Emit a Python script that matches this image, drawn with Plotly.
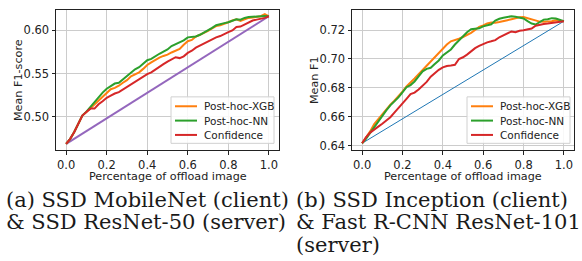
import plotly.graph_objects as go

# ---------------- data ----------------
offload = [round(i * 0.02, 2) for i in range(51)]

a_xgb = [0.4687, 0.4745, 0.4825, 0.4925, 0.5015, 0.5055, 0.5100, 0.5150, 0.5195, 0.5240,
         0.5280, 0.5320, 0.5335, 0.5360, 0.5395, 0.5425, 0.5470, 0.5490, 0.5515, 0.5555,
         0.5600, 0.5630, 0.5660, 0.5685, 0.5705, 0.5720, 0.5745, 0.5765, 0.5785, 0.5835,
         0.5875, 0.5890, 0.5930, 0.5950, 0.5970, 0.5995, 0.6025, 0.6050, 0.6060, 0.6075,
         0.6095, 0.6115, 0.6130, 0.6110, 0.6130, 0.6145, 0.6150, 0.6160, 0.6165, 0.6188,
         0.6164]
a_nn = [0.4687, 0.4745, 0.4825, 0.4925, 0.5015, 0.5060, 0.5115, 0.5180, 0.5235, 0.5280,
        0.5325, 0.5355, 0.5385, 0.5395, 0.5435, 0.5475, 0.5520, 0.5550, 0.5575, 0.5610,
        0.5655, 0.5670, 0.5705, 0.5730, 0.5755, 0.5780, 0.5820, 0.5840, 0.5865, 0.5885,
        0.5920, 0.5925, 0.5930, 0.5950, 0.5975, 0.6000, 0.6030, 0.6060, 0.6075, 0.6085,
        0.6095, 0.6115, 0.6130, 0.6125, 0.6145, 0.6155, 0.6160, 0.6165, 0.6165, 0.6168,
        0.6164]
a_conf = [0.4687, 0.4745, 0.4825, 0.4925, 0.5015, 0.5055, 0.5095, 0.5095, 0.5145, 0.5180,
          0.5220, 0.5245, 0.5270, 0.5285, 0.5315, 0.5355, 0.5375, 0.5410, 0.5440, 0.5465,
          0.5495, 0.5515, 0.5550, 0.5580, 0.5610, 0.5640, 0.5665, 0.5690, 0.5680, 0.5700,
          0.5740, 0.5765, 0.5800, 0.5825, 0.5850, 0.5880, 0.5900, 0.5920, 0.5935, 0.5960,
          0.5980, 0.6000, 0.6040, 0.6045, 0.6070, 0.6090, 0.6115, 0.6125, 0.6135, 0.6145,
          0.6164]
a_diag_x = [0.0, 1.0]
a_diag_y = [0.4687, 0.6164]

b_xgb = [0.6418, 0.6455, 0.6500, 0.6550, 0.6585, 0.6620, 0.6655, 0.6685, 0.6712, 0.6740,
         0.6775, 0.6810, 0.6835, 0.6865, 0.6895, 0.6925, 0.6955, 0.6985, 0.7010, 0.7040,
         0.7075, 0.7100, 0.7122, 0.7130, 0.7140, 0.7152, 0.7165, 0.7180, 0.7200, 0.7222,
         0.7232, 0.7245, 0.7252, 0.7250, 0.7255, 0.7264, 0.7268, 0.7275, 0.7284, 0.7288,
         0.7290, 0.7282, 0.7272, 0.7265, 0.7258, 0.7257, 0.7258, 0.7260, 0.7268, 0.7264,
         0.7261]
b_nn = [0.6418, 0.6450, 0.6490, 0.6530, 0.6570, 0.6610, 0.6645, 0.6680, 0.6705, 0.6735,
        0.6770, 0.6805, 0.6820, 0.6845, 0.6880, 0.6915, 0.6932, 0.6939, 0.6965, 0.6990,
        0.7025, 0.7048, 0.7066, 0.7100, 0.7130, 0.7160, 0.7185, 0.7205, 0.7208, 0.7212,
        0.7225, 0.7230, 0.7240, 0.7265, 0.7278, 0.7285, 0.7290, 0.7295, 0.7292, 0.7288,
        0.7280, 0.7262, 0.7245, 0.7238, 0.7258, 0.7272, 0.7275, 0.7282, 0.7280, 0.7268,
        0.7261]
b_conf = [0.6418, 0.6460, 0.6492, 0.6515, 0.6533, 0.6553, 0.6575, 0.6598, 0.6630, 0.6660,
          0.6688, 0.6725, 0.6758, 0.6768, 0.6790, 0.6818, 0.6842, 0.6878, 0.6905, 0.6925,
          0.6942, 0.6952, 0.6955, 0.6960, 0.7000, 0.7012, 0.7030, 0.7052, 0.7075, 0.7090,
          0.7105, 0.7115, 0.7122, 0.7130, 0.7150, 0.7165, 0.7178, 0.7190, 0.7185, 0.7195,
          0.7198, 0.7205, 0.7210, 0.7230, 0.7238, 0.7242, 0.7245, 0.7250, 0.7255, 0.7258,
          0.7261]
b_diag_x = [0.0, 1.0]
b_diag_y = [0.6418, 0.7261]

series_names = ["Post-hoc-XGB", "Post-hoc-NN", "Confidence"]
series_colors = ["#ff7f0e", "#2ca02c", "#d62728"]

x_ticks = [0.0, 0.2, 0.4, 0.6, 0.8, 1.0]
a_y_ticks = [0.50, 0.55, 0.60]
b_y_ticks = [0.64, 0.66, 0.68, 0.70, 0.72]

x_title = "Percentage of offload image"
a_y_title = "Mean F1-score"
b_y_title = "Mean F1"
caption_a = ["(a) SSD MobileNet (client)", "& SSD ResNet-50 (server)"]
caption_b = ["(b) SSD Inception (client)", "& Fast R-CNN ResNet-101", "(server)"]

# ---------------- figure ----------------
W, H = 582, 261
def px(x):
    return x / W
def py(y):
    return 1 - y / H

fig = go.Figure()

def add_panel(xa, ya, series, diag_x, diag_y, diag_color, diag_width):
    fig.add_trace(go.Scatter(x=diag_x, y=diag_y, mode="lines", xaxis=xa, yaxis=ya,
                             line=dict(color=diag_color, width=diag_width), showlegend=False))
    for ys, name, col in zip(series, series_names, series_colors):
        fig.add_trace(go.Scatter(x=offload, y=ys, mode="lines", name=name, xaxis=xa, yaxis=ya,
                                 line=dict(color=col, width=2), showlegend=False))

add_panel("x", "y", [a_xgb, a_nn, a_conf], a_diag_x, a_diag_y, "#9467bd", 2)
add_panel("x2", "y2", [b_xgb, b_nn, b_conf], b_diag_x, b_diag_y, "#1f77b4", 1)

tick_font = dict(family="DejaVu Sans", size=11.5, color="#222")
title_font = dict(family="DejaVu Sans", size=11.2, color="#222")
axis_common = dict(showgrid=True, gridcolor="#cccccc", gridwidth=1.2, zeroline=False,
                   showline=True, linecolor="#222", linewidth=1, mirror=True,
                   ticks="outside", ticklen=3.5, tickwidth=1, tickcolor="#222",
                   tickfont=tick_font)

fig.update_layout(
    width=W, height=H, margin=dict(l=0, r=0, t=0, b=0),
    paper_bgcolor="white", plot_bgcolor="white", showlegend=False,
    xaxis=dict(domain=[px(56), px(279)], range=[-0.05, 1.05], tickvals=x_ticks,
               tickformat=".1f", anchor="y", **axis_common),
    yaxis=dict(domain=[py(152), py(10)], range=[0.4613, 0.6238], tickvals=a_y_ticks,
               tickformat=".2f", anchor="x", **axis_common),
    xaxis2=dict(domain=[px(352), px(574)], range=[-0.05, 1.05], tickvals=x_ticks,
                tickformat=".1f", anchor="y2", **axis_common),
    yaxis2=dict(domain=[py(152), py(10)], range=[0.6370, 0.7339], tickvals=b_y_ticks,
                tickformat=".2f", anchor="x2", **axis_common),
)

shapes = []
annotations = []

# axis titles
for cx, ytxt, ycx in ((167.5, a_y_title, 18), (463, b_y_title, 314)):
    annotations.append(dict(x=px(cx), y=py(179), xref="paper", yref="paper", text=x_title,
                            showarrow=False, xanchor="center", yanchor="middle", font=title_font))
    annotations.append(dict(x=px(ycx), y=py(81), xref="paper", yref="paper", text=ytxt,
                            textangle=-90, showarrow=False, xanchor="center", yanchor="middle",
                            font=title_font))

# manual legends (compact, matplotlib-like)
for box_left in (171, 467):
    shapes.append(dict(type="rect", xref="paper", yref="paper",
                       x0=px(box_left), x1=px(box_left + 103), y0=py(145), y1=py(98),
                       line=dict(color="#d0d0d0", width=1), fillcolor="rgba(255,255,255,0.85)",
                       layer="above"))
    for i, (name, col) in enumerate(zip(series_names, series_colors)):
        yy = 107.5 + i * 14.5
        shapes.append(dict(type="line", xref="paper", yref="paper",
                           x0=px(box_left + 4), x1=px(box_left + 26), y0=py(yy), y1=py(yy),
                           line=dict(color=col, width=2), layer="above"))
        annotations.append(dict(x=px(box_left + 31), y=py(yy), xref="paper", yref="paper",
                                text=name, showarrow=False, xanchor="left", yanchor="middle",
                                font=dict(family="DejaVu Sans", size=10.5, color="#222")))

cap_font = dict(family="DejaVu Serif", size=21, color="#1a1a1a")
for i, line in enumerate(caption_a):
    annotations.append(dict(x=px(4), y=py(202 + i * 23), xref="paper", yref="paper",
                            text=line, showarrow=False, xanchor="left", yanchor="middle",
                            font=cap_font))
for i, line in enumerate(caption_b):
    annotations.append(dict(x=px(294), y=py(202 + i * 23), xref="paper", yref="paper",
                            text=line, showarrow=False, xanchor="left", yanchor="middle",
                            font=cap_font))

fig.update_layout(shapes=shapes, annotations=annotations)
fig.write_html("out.html", config={"displayModeBar": False},
               post_script="document.body.style.margin='0';document.body.style.overflow='hidden';")
